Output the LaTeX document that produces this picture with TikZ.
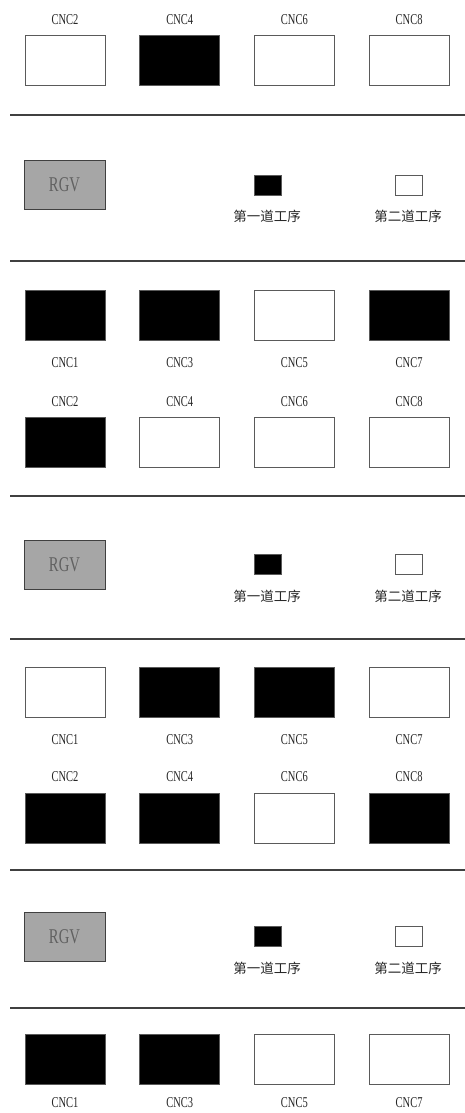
\documentclass[tikz,border=0pt]{standalone}
\usepackage{fontspec}
\setmainfont{Liberation Serif}
\newfontfamily\cjkfont{Noto Sans CJK SC}
\newfontfamily\narrowfont[FakeStretch=0.7]{Liberation Serif}
\usetikzlibrary{positioning}
\definecolor{rgvGray}{HTML}{A6A6A6}
\definecolor{edgeGray}{HTML}{5A5A5A}
\definecolor{ruleGray}{HTML}{404040}

\begin{document}
\begin{tikzpicture}[x=1pt, y=-1pt,
    cnc/.style={draw=edgeGray, line width=0.9pt, minimum width=80pt, minimum height=50pt, inner sep=0pt},
    busy/.style={cnc, fill=black},
    idle/.style={cnc, fill=white},
    rgv/.style={draw=ruleGray, line width=0.9pt, fill=rgvGray, minimum width=81pt, minimum height=49pt,
      font=\narrowfont\fontsize{21}{21}\selectfont, text=black!62},
    key/.style={draw=edgeGray, line width=0.8pt, minimum width=27pt, minimum height=20pt, inner sep=0pt},
    cnclabel/.style={font=\narrowfont\fontsize{15}{15}\selectfont, inner sep=0pt, text=black!85},
    keytext/.style={font=\cjkfont\fontsize{13.5}{13.5}\selectfont, inner sep=0pt, text=black!85},
    rule/.style={ruleGray, line width=1.4pt}]
    \useasboundingbox (0,0) rectangle (465,1113);
    % CNC rows
    \foreach \k/\s [count=\c] in {2/idle,4/busy,6/idle,8/idle} {
      \node[\s] (ra\k) at ({65+114.7*(\c-1)},60.5) {};
      \node[cnclabel, above=10.5pt of ra\k] (ra\k-n) {CNC\k};}
    \foreach \k/\s [count=\c] in {1/busy,3/busy,5/idle,7/busy} {
      \node[\s] (rb\k) at ({65+114.7*(\c-1)},315.5) {};
      \node[cnclabel, below=16pt of rb\k] (rb\k-n) {CNC\k};}
    \foreach \k/\s [count=\c] in {2/busy,4/idle,6/idle,8/idle} {
      \node[\s] (rc\k) at ({65+114.7*(\c-1)},442.5) {};
      \node[cnclabel, above=10.5pt of rc\k] (rc\k-n) {CNC\k};}
    \foreach \k/\s [count=\c] in {1/idle,3/busy,5/busy,7/idle} {
      \node[\s] (rd\k) at ({65+114.7*(\c-1)},692.5) {};
      \node[cnclabel, below=16pt of rd\k] (rd\k-n) {CNC\k};}
    \foreach \k/\s [count=\c] in {2/busy,4/busy,6/idle,8/busy} {
      \node[\s] (re\k) at ({65+114.7*(\c-1)},818) {};
      \node[cnclabel, above=10.5pt of re\k] (re\k-n) {CNC\k};}
    \foreach \k/\s [count=\c] in {1/busy,3/busy,5/idle,7/idle} {
      \node[\s] (rf\k) at ({65+114.7*(\c-1)},1059) {};
      \node[cnclabel, below=13pt of rf\k] (rf\k-n) {CNC\k};}
    % RGV and legend
    \foreach \g/\y in {1/185,2/564.5,3/936.5} {
      \node[rgv] (rgv\g) at (64.5,\y) {RGV};
      \node[key, fill=black] (first\g) at (267.5,\y) {};
      \node[key, fill=white] (second\g) at (408.5,\y) {};
      \node[keytext] (first\g-t) at (267,\y+31.5) {第一道工序};
      \node[keytext] (second\g-t) at (408,\y+31.5) {第二道工序};}
    % track lines
    \foreach \y in {115,261,496,639,870,1008}
      \draw[rule] (10,\y) -- (465,\y);
  \end{tikzpicture}
\end{document}
